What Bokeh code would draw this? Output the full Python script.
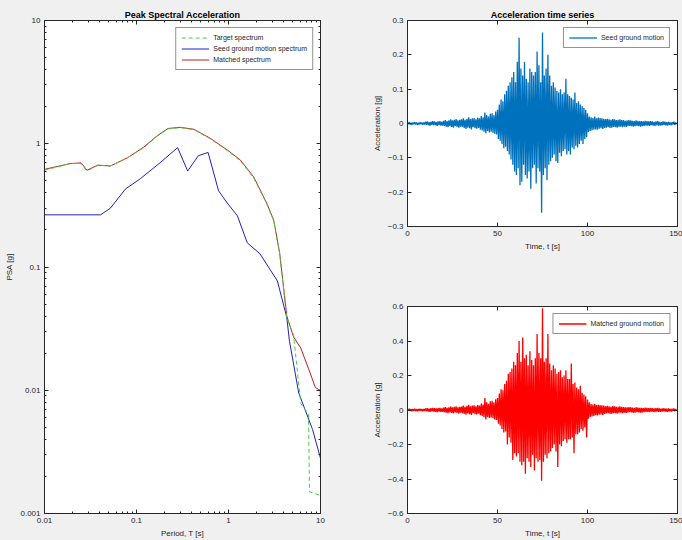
import numpy as np
from bokeh.plotting import figure
from bokeh.layouts import row, column
from bokeh.models import (LinearAxis, LogAxis, FixedTicker,
                          Legend, LegendItem, Range1d)
from bokeh.embed import file_html
from bokeh.resources import INLINE

# ---------------- data: response spectra ----------------
target_periods = [0.01, 0.019, 0.025, 0.029, 0.038, 0.052, 0.08, 0.12, 0.17, 0.22, 0.30, 0.42,
                  0.63, 0.97, 1.34, 1.87, 2.6, 3.1, 3.6, 4.3, 5.1, 6.1, 7.4, 7.6, 10]
target_psa = [0.61, 0.69, 0.69, 0.60, 0.67, 0.66, 0.77, 0.93, 1.16, 1.32, 1.35, 1.30,
              1.10, 0.88, 0.73, 0.53, 0.326, 0.237, 0.128, 0.039, 0.028, 0.0078, 0.0064, 0.0015, 0.0014]

seed_periods = [0.01, 0.0406, 0.052, 0.076, 0.11, 0.18, 0.28, 0.36, 0.47, 0.6, 0.78, 0.97,
                1.25, 1.6, 2.2, 3.4, 4.3, 4.6, 5.8, 8.2, 10]
seed_psa = [0.265, 0.265, 0.30, 0.43, 0.52, 0.70, 0.93, 0.60, 0.80, 0.85, 0.415, 0.33,
            0.26, 0.157, 0.128, 0.077, 0.039, 0.025, 0.0095, 0.0048, 0.0028]

matched_periods = [0.01, 0.019, 0.025, 0.029, 0.038, 0.052, 0.08, 0.12, 0.17, 0.22, 0.30, 0.42,
                   0.63, 0.97, 1.34, 1.87, 2.6, 3.1, 3.6, 4.3, 5.1, 6.1, 7.4, 8.8, 9.9, 10]
matched_psa = [0.62, 0.69, 0.70, 0.61, 0.67, 0.66, 0.77, 0.94, 1.17, 1.33, 1.36, 1.31,
               1.11, 0.89, 0.74, 0.54, 0.33, 0.24, 0.13, 0.04, 0.027, 0.022, 0.015, 0.0105, 0.0100, 0.0078]

psa_ticks = [0.001, 0.01, 0.1, 1, 10]
period_ticks = [0.01, 0.1, 1, 10]

# ---------------- data: acceleration time series (g), sampled every 0.5 s ----------------
dt = 0.5
seed_acc = [
    0.003, -0.002, 0.004, -0.003, 0.002, -0.004, 0.003, -0.002, 0.004, -0.003, 0.003, -0.004, 0.002, -0.003, 0.004, -0.002, 0.003, -0.004, 0.003, -0.003,
    0.005, -0.004, 0.006, -0.005, 0.004, -0.006, 0.005, -0.004, 0.007, -0.005, 0.006, -0.005, 0.004, -0.007, 0.006, -0.005, 0.007, -0.006, 0.005, -0.006,
    0.008, -0.007, 0.010, -0.009, 0.007, -0.011, 0.009, -0.008, 0.012, -0.010, 0.009, -0.012, 0.011, -0.008, 0.013, -0.010, 0.009, -0.012, 0.011, -0.009,
    0.012, -0.010, 0.015, -0.013, 0.011, -0.016, 0.014, -0.012, 0.018, -0.014, 0.013, -0.017, 0.015, -0.011, 0.016, -0.014, 0.012, -0.015, 0.017, -0.013,
    0.015, -0.018, 0.022, -0.020, 0.018, -0.024, 0.032, -0.028, 0.025, -0.022, 0.020, -0.026, 0.028, -0.024, 0.030, -0.027, 0.024, -0.030, 0.035, -0.032,
    0.040, -0.045, 0.055, -0.050, 0.070, -0.060, 0.065, -0.072, 0.085, -0.068, 0.095, -0.080, 0.110, -0.090, 0.120, -0.105, 0.135, -0.120, 0.150, -0.140,
    0.120, -0.150, 0.180, -0.130, 0.250, -0.180, 0.160, -0.170, 0.140, -0.120, 0.180, -0.150, 0.130, -0.160, 0.120, -0.140, 0.160, -0.190, 0.150, -0.130,
    0.140, -0.120, 0.150, -0.175, 0.210, -0.130, 0.170, -0.140, 0.120, -0.260, 0.265, -0.150, 0.140, -0.130, 0.160, -0.165, 0.200, -0.120, 0.140, -0.110,
    0.110, -0.100, 0.120, -0.090, 0.105, -0.110, 0.095, -0.115, 0.090, -0.085, 0.100, -0.095, 0.085, -0.080, 0.090, -0.075, 0.130, -0.090, 0.085, -0.080,
    0.080, -0.090, 0.075, -0.070, 0.070, -0.075, 0.090, -0.065, 0.060, -0.070, 0.065, -0.060, 0.055, -0.050, 0.050, -0.060, 0.045, -0.045, 0.040, -0.040,
    0.030, -0.025, 0.020, -0.022, 0.018, -0.020, 0.016, -0.018, 0.020, -0.017, 0.015, -0.018, 0.017, -0.015, 0.016, -0.014, 0.015, -0.016, 0.014, -0.013,
    0.013, -0.012, 0.014, -0.011, 0.012, -0.013, 0.011, -0.012, 0.013, -0.010, 0.012, -0.011, 0.010, -0.012, 0.011, -0.010, 0.012, -0.009, 0.010, -0.011,
    0.010, -0.009, 0.008, -0.010, 0.009, -0.008, 0.010, -0.007, 0.009, -0.008, 0.008, -0.009, 0.007, -0.008, 0.009, -0.007, 0.008, -0.008, 0.007, -0.009,
    0.007, -0.008, 0.006, -0.007, 0.008, -0.006, 0.007, -0.006, 0.006, -0.007, 0.007, -0.005, 0.006, -0.006, 0.005, -0.007, 0.006, -0.005, 0.007, -0.006,
    0.005, -0.006, 0.004, -0.005, 0.006, -0.004, 0.005, -0.005, 0.004, -0.006, 0.005, -0.004, 0.003, -0.005, 0.004, -0.003, 0.005, -0.004, 0.003, -0.002,
]
matched_acc = [
    0.006, -0.005, 0.007, -0.006, 0.005, -0.007, 0.006, -0.005, 0.007, -0.006, 0.005, -0.007, 0.006, -0.005, 0.008, -0.006, 0.005, -0.007, 0.006, -0.005,
    0.009, -0.008, 0.011, -0.009, 0.008, -0.011, 0.010, -0.008, 0.012, -0.009, 0.010, -0.011, 0.009, -0.012, 0.011, -0.009, 0.012, -0.010, 0.009, -0.011,
    0.014, -0.012, 0.017, -0.015, 0.013, -0.018, 0.016, -0.014, 0.020, -0.017, 0.015, -0.019, 0.018, -0.014, 0.021, -0.017, 0.015, -0.020, 0.018, -0.016,
    0.020, -0.018, 0.025, -0.022, 0.019, -0.027, 0.024, -0.020, 0.030, -0.024, 0.022, -0.028, 0.026, -0.019, 0.027, -0.024, 0.021, -0.026, 0.029, -0.022,
    0.026, -0.030, 0.038, -0.035, 0.032, -0.042, 0.070, -0.055, 0.045, -0.040, 0.036, -0.046, 0.050, -0.043, 0.054, -0.048, 0.044, -0.055, 0.062, -0.058,
    0.070, -0.080, 0.095, -0.090, 0.120, -0.110, 0.115, -0.130, 0.150, -0.125, 0.170, -0.200, 0.210, -0.160, 0.220, -0.190, 0.240, -0.290, 0.280, -0.250,
    0.260, -0.270, 0.330, -0.250, 0.400, -0.300, 0.280, -0.320, 0.420, -0.300, 0.300, -0.370, 0.320, -0.280, 0.260, -0.300, 0.340, -0.330, 0.290, -0.260,
    0.260, -0.350, 0.300, -0.280, 0.440, -0.300, 0.330, -0.290, 0.300, -0.410, 0.590, -0.300, 0.280, -0.260, 0.300, -0.280, 0.440, -0.250, 0.270, -0.240,
    0.230, -0.220, 0.260, -0.200, 0.240, -0.240, 0.210, -0.330, 0.220, -0.200, 0.230, -0.210, 0.190, -0.180, 0.200, -0.170, 0.230, -0.190, 0.180, -0.170,
    0.180, -0.170, 0.270, -0.160, 0.150, -0.250, 0.160, -0.140, 0.130, -0.140, 0.120, -0.130, 0.140, -0.110, 0.100, -0.120, 0.090, -0.100, 0.080, -0.160,
    0.060, -0.050, 0.045, -0.040, 0.035, -0.038, 0.032, -0.035, 0.036, -0.030, 0.028, -0.032, 0.030, -0.027, 0.029, -0.025, 0.027, -0.028, 0.025, -0.023,
    0.022, -0.020, 0.024, -0.019, 0.021, -0.022, 0.019, -0.021, 0.023, -0.018, 0.021, -0.019, 0.018, -0.021, 0.019, -0.017, 0.021, -0.016, 0.018, -0.019,
    0.017, -0.016, 0.015, -0.017, 0.016, -0.014, 0.017, -0.013, 0.016, -0.014, 0.014, -0.016, 0.013, -0.015, 0.016, -0.012, 0.014, -0.014, 0.012, -0.015,
    0.012, -0.013, 0.011, -0.012, 0.013, -0.011, 0.012, -0.010, 0.011, -0.012, 0.012, -0.009, 0.010, -0.011, 0.009, -0.012, 0.011, -0.009, 0.012, -0.010,
    0.009, -0.010, 0.008, -0.009, 0.010, -0.008, 0.009, -0.009, 0.007, -0.010, 0.009, -0.007, 0.006, -0.009, 0.008, -0.006, 0.009, -0.007, 0.006, -0.004,
]
time_ticks = [0, 50, 100, 150]
seed_ticks = [-0.3, -0.2, -0.1, 0, 0.1, 0.2, 0.3]
matched_ticks = [-0.6, -0.4, -0.2, 0, 0.2, 0.4, 0.6]

t_seed = np.arange(len(seed_acc)) * dt
t_matched = np.arange(len(matched_acc)) * dt

FONT = "Liberation Sans"
BG = "#f0f0f0"
AX = "#262626"


def style_axis(ax, labels=True):
    ax.axis_line_color = AX
    ax.major_tick_line_color = AX
    ax.minor_tick_line_color = AX
    ax.major_tick_in = 4
    ax.major_tick_out = 0
    ax.minor_tick_in = 2
    ax.minor_tick_out = 0
    ax.major_label_text_font = FONT
    ax.major_label_text_color = AX
    ax.major_label_text_font_size = "8px" if labels else "2px"
    ax.major_label_text_alpha = 1 if labels else 0
    ax.major_label_standoff = 4 if labels else 0
    ax.axis_label_text_font = FONT
    ax.axis_label_text_font_size = "8px"
    ax.axis_label_text_font_style = "normal"
    ax.axis_label_text_color = AX
    ax.axis_label_standoff = 3


def base(p, title):
    p.background_fill_color = "white"
    p.border_fill_color = BG
    p.outline_line_color = AX
    p.grid.visible = False
    if title:
        p.title.text = title
        p.title.text_font = FONT
        p.title.text_font_size = "9px"
        p.title.text_font_style = "bold"
        p.title.text_color = "black"
        p.title.align = "center"
        p.title.standoff = 1


# ---------------- left: spectra ----------------
minor_log = [k * 10.0 ** e for e in range(-3, 1) for k in range(2, 10)]
pl = figure(frame_width=276, frame_height=493, x_axis_type="log", y_axis_type="log",
            x_range=Range1d(0.01, 10), y_range=Range1d(0.001, 10),
            min_border_left=44, min_border_right=20, min_border_top=20, min_border_bottom=27,
            output_backend="svg", toolbar_location=None)
base(pl, "Peak Spectral Acceleration")
xt = FixedTicker(ticks=period_ticks, minor_ticks=[m for m in minor_log if 0.01 < m < 10])
yt = FixedTicker(ticks=psa_ticks, minor_ticks=minor_log)
pl.xaxis.ticker = xt
pl.yaxis.ticker = yt
pl.xaxis.major_label_overrides = {0.01: "0.01", 0.1: "0.1", 1: "1", 10: "10"}
pl.yaxis.major_label_overrides = {0.001: "0.001", 0.01: "0.01", 0.1: "0.1", 1: "1", 10: "10"}
pl.xaxis.axis_label = "Period, T [s]"
pl.yaxis.axis_label = "PSA [g]"
style_axis(pl.xaxis[0])
style_axis(pl.yaxis[0])
top_ax = LogAxis(ticker=xt)
right_ax = LogAxis(ticker=yt)
style_axis(top_ax, labels=False)
style_axis(right_ax, labels=False)
pl.add_layout(top_ax, "above")
pl.add_layout(right_ax, "right")

r_seed = pl.line(seed_periods, seed_psa, line_color="#2020c0", line_width=1)
r_match = pl.line(matched_periods, matched_psa, line_color="#c02020", line_width=1)
r_target = pl.line(target_periods, target_psa, line_color="#40d040", line_width=1, line_dash="4 3")
leg = Legend(items=[LegendItem(label="Target spectrum", renderers=[r_target]),
                    LegendItem(label="Seed ground motion spectrum", renderers=[r_seed]),
                    LegendItem(label="Matched spectrum", renderers=[r_match])],
             location="top_right")
pl.add_layout(leg)


# ---------------- right: time series ----------------
def ts_fig(t, a, ticks, yr, color, label, title, top, bottom):
    p = figure(frame_width=270, frame_height=206 if title else 207,
               x_range=Range1d(0, 150), y_range=Range1d(-yr, yr),
               min_border_left=67, min_border_right=5, min_border_top=top, min_border_bottom=bottom,
               output_backend="svg", toolbar_location=None)
    base(p, title)
    xtk = FixedTicker(ticks=time_ticks)
    ytk = FixedTicker(ticks=ticks)
    p.xaxis.ticker = xtk
    p.yaxis.ticker = ytk
    p.xaxis.axis_label = "Time, t [s]"
    p.yaxis.axis_label = "Acceleration [g]"
    style_axis(p.xaxis[0])
    style_axis(p.yaxis[0])
    ta = LinearAxis(ticker=xtk)
    ra = LinearAxis(ticker=ytk)
    style_axis(ta, labels=False)
    style_axis(ra, labels=False)
    p.add_layout(ta, "above")
    p.add_layout(ra, "right")
    r = p.line(t, a, line_color=color, line_width=1.3)
    lg = Legend(items=[LegendItem(label=label, renderers=[r])], location="top_right")
    p.add_layout(lg)
    return p, lg


pt, lg1 = ts_fig(t_seed, seed_acc, seed_ticks, 0.3, "#0072BD", "Seed ground motion",
                 "Acceleration time series", 20, 44)
pb, lg2 = ts_fig(t_matched, matched_acc, matched_ticks, 0.6, "#FF0000", "Matched ground motion",
                 "", 36, 27)

for lg in (leg, lg1, lg2):
    lg.label_text_font = FONT
    lg.label_text_font_size = "7px"
    lg.label_text_color = AX
    lg.label_height = 9
    lg.glyph_height = 9
    lg.glyph_width = 28
    lg.label_standoff = 4
    lg.spacing = 2
    lg.padding = 5
    lg.margin = 7
    lg.border_line_color = AX
    lg.background_fill_color = "white"
    lg.background_fill_alpha = 1

col = column(pt, pb, spacing=0, styles={"background-color": BG})
layout = row(pl, col, spacing=0, styles={"background-color": BG})
open("out.html", "w").write(file_html(layout, INLINE))
